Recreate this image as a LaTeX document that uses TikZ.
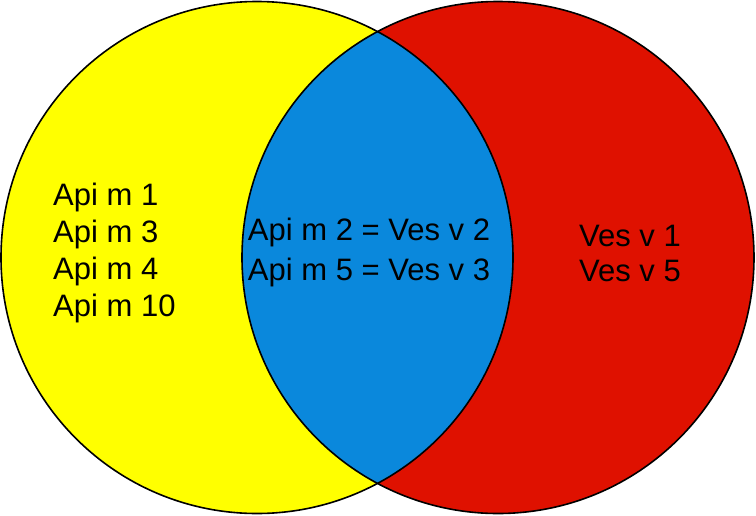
\documentclass[tikz,border=0pt]{standalone}
\usepackage{fontspec}
\setmainfont{Liberation Sans}
\definecolor{setApi}{HTML}{FFFF00}
\definecolor{setVes}{HTML}{DF1100}
\definecolor{setBoth}{HTML}{0A88DC}

\begin{document}
\begin{tikzpicture}[
    x=1pt, y=-1pt,
    lbl/.style={inner sep=0pt, text=black},
    rim/.style={draw=black, line width=1.6pt},
]
\useasboundingbox (0, 0) rectangle (756, 515);
\coordinate (cApi) at (257, 257.5);
\coordinate (cVes) at (498, 257.5);
\fill[setApi] (cApi) circle (256);
\fill[setVes] (cVes) circle (256);
\begin{scope}
  \clip (cApi) circle (256);
  \fill[setBoth] (cVes) circle (256);
\end{scope}
\draw[rim] (cApi) circle (256);
\draw[rim] (cVes) circle (256);
\node[lbl, anchor=north west, align=left, font=\fontsize{31}{37}\selectfont] (onlyApi) at (53, 183)
  {Api m 1\\Api m 3\\Api m 4\\Api m 10};
\node[lbl, anchor=north, align=center, font=\fontsize{31}{40}\selectfont] (both) at (369, 218)
  {Api m 2 = Ves v 2\\Api m 5 = Ves v 3};
\node[lbl, anchor=north, align=center, font=\fontsize{31}{35}\selectfont] (onlyVes) at (630, 225)
  {Ves v 1\\Ves v 5};
\end{tikzpicture}
\end{document}
